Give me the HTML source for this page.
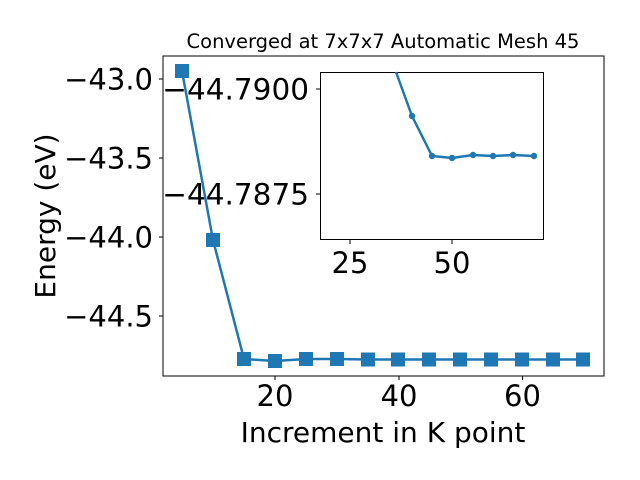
<!DOCTYPE html>
<html><head><style>body{margin:0;background:#fff}svg{display:block}</style></head><body>
<svg width="640" height="480" xmlns="http://www.w3.org/2000/svg" font-family="'DejaVu Sans','Liberation Sans',sans-serif">
<rect width="640" height="480" fill="#fff"/>
<text x="383" y="48" font-size="19.5" text-anchor="middle">Converged at 7x7x7 Automatic Mesh 45</text>
<!-- main data -->
<polyline fill="none" stroke="#1f77b4" stroke-width="2.5" points="182,71 213,240 244,359 275,361 306,359 337,359 368,359.5 398,359.5 429,359.5 460,359.5 491,359.5 522,359.5 553,359.5 583,359.5"/>
<g fill="#1f77b4">
<rect x="175" y="64" width="14" height="14"/><rect x="206" y="233" width="14" height="14"/>
<rect x="237" y="352" width="14" height="14"/><rect x="268" y="354" width="14" height="14"/>
<rect x="299" y="352" width="14" height="14"/><rect x="330" y="352" width="14" height="14"/>
<rect x="361" y="352.5" width="14" height="14"/><rect x="391" y="352.5" width="14" height="14"/>
<rect x="422" y="352.5" width="14" height="14"/><rect x="453" y="352.5" width="14" height="14"/>
<rect x="484" y="352.5" width="14" height="14"/><rect x="515" y="352.5" width="14" height="14"/>
<rect x="546" y="352.5" width="14" height="14"/><rect x="576" y="352.5" width="14" height="14"/>
</g>
<rect x="163" y="56" width="441" height="320" fill="none" stroke="#000" stroke-width="1"/>
<g stroke="#000" stroke-width="1">
<line x1="159" y1="79" x2="163" y2="79"/><line x1="159" y1="158" x2="163" y2="158"/>
<line x1="159" y1="237" x2="163" y2="237"/><line x1="159" y1="316" x2="163" y2="316"/>
<line x1="275" y1="376" x2="275" y2="380"/><line x1="399" y1="376" x2="399" y2="380"/><line x1="522.5" y1="376" x2="522.5" y2="380"/>
</g>
<g font-size="29" text-anchor="end">
<text x="153" y="89.5">−43.0</text><text x="153" y="168.5">−43.5</text>
<text x="153" y="247.5">−44.0</text><text x="153" y="326.5">−44.5</text>
</g>
<g font-size="29" text-anchor="middle">
<text x="275" y="406">20</text><text x="399" y="406">40</text><text x="522.5" y="406">60</text>
</g>
<text x="383" y="442" font-size="28" text-anchor="middle">Increment in K point</text>
<text transform="translate(55,216) rotate(-90)" font-size="28" text-anchor="middle">Energy (eV)</text>
<!-- inset -->
<rect x="320.5" y="72.5" width="223" height="167" fill="#fff" stroke="#000" stroke-width="1"/>
<polyline fill="none" stroke="#1f77b4" stroke-width="2.5" points="396,72 412,116 432,156 452,158 473,155 493,156 513,155 534,156"/>
<g fill="#1f77b4">
<circle cx="412" cy="116" r="3.2"/><circle cx="432" cy="156" r="3.2"/><circle cx="452" cy="158" r="3.2"/>
<circle cx="473" cy="155" r="3.2"/><circle cx="493" cy="156" r="3.2"/><circle cx="513" cy="155" r="3.2"/><circle cx="534" cy="156" r="3.2"/>
</g>
<g stroke="#000" stroke-width="1">
<line x1="316" y1="89" x2="320" y2="89"/><line x1="316" y1="194" x2="320" y2="194"/>
<line x1="350" y1="240" x2="350" y2="244"/><line x1="452" y1="240" x2="452" y2="244"/>
</g>
<g font-size="29.5" text-anchor="end">
<text x="309" y="99.5">−44.7900</text><text x="309" y="204.5">−44.7875</text>
</g>
<g font-size="29" text-anchor="middle">
<text x="350" y="273">25</text><text x="452" y="273">50</text>
</g>
</svg>
</body></html>
